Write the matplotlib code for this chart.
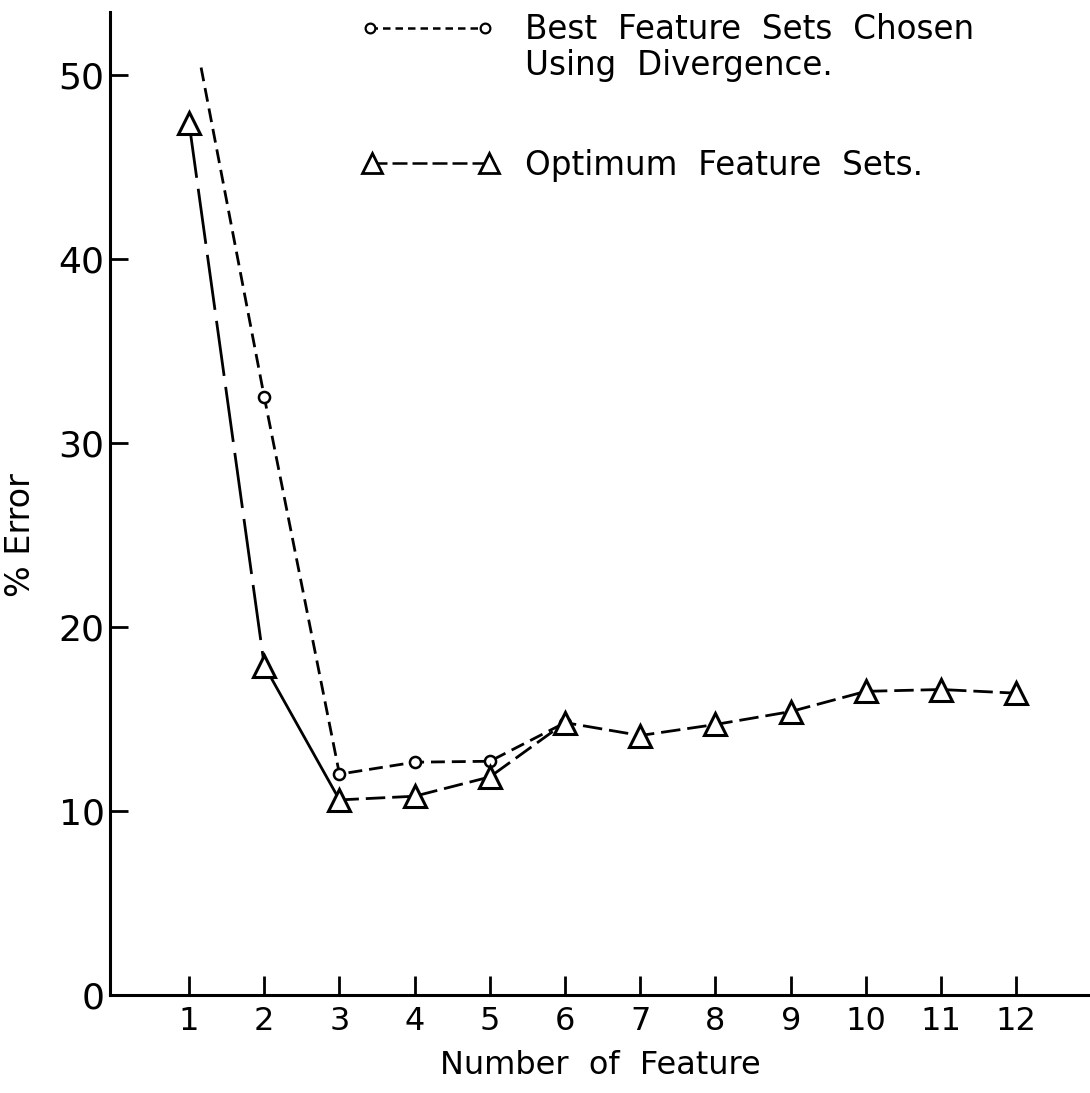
import matplotlib
matplotlib.use('Agg')
import matplotlib.pyplot as plt
from matplotlib.lines import Line2D

plt.rcParams['font.family'] = ['DejaVu Sans']

# optimum feature sets (triangles)
n_opt = [1, 2, 3, 4, 5, 6, 7, 8, 9, 10, 11, 12]
err_opt = [47.4, 17.9, 10.6, 10.8, 11.85, 14.8, 14.1, 14.7, 15.4, 16.5, 16.6, 16.4]

# best sets chosen using divergence (circles); line enters from top of plot
n_div = [1.16, 2, 3, 4, 5, 6]
err_div = [50.4, 32.5, 12.0, 12.65, 12.7, 14.8]

xticks = list(range(1, 13))
yticks = [0, 10, 20, 30, 40, 50]

fig = plt.figure(figsize=(10.9, 10.93), dpi=100)
ax = fig.add_axes([0.101, 0.0897, 0.899, 0.899])

lw = 2.0
# divergence series: short dashes, no marker on the first (entry) point
ax.plot(n_div, err_div, color='black', lw=lw, dashes=(5, 2.5),
        marker='o', markersize=8, markerfacecolor='white', markeredgewidth=1.8,
        markevery=list(range(1, len(n_div))), zorder=3)

# optimum series: long dashes 1-2, solid 2-3, medium dashes after
ax.plot(n_opt[0:2], err_opt[0:2], color='black', lw=lw, dashes=(20, 4), zorder=2)
ax.plot(n_opt[1:3], err_opt[1:3], color='black', lw=lw, zorder=2)
ax.plot(n_opt[2:], err_opt[2:], color='black', lw=lw, dashes=(7, 2.5), zorder=2)
ax.plot(n_opt, err_opt, linestyle='none', marker='^', markersize=16,
        markerfacecolor='white', markeredgecolor='black', markeredgewidth=2.2, zorder=4)

ax.set_xlim(-0.05, 12.98)
ax.set_ylim(0, 53.4)
ax.set_xticks(xticks)
ax.set_xticklabels([str(v) for v in xticks], fontsize=23)
ax.set_yticks(yticks)
ax.set_yticklabels([str(v) for v in yticks], fontsize=26)

for s in ['top', 'right']:
    ax.spines[s].set_visible(False)
for s in ['left', 'bottom']:
    ax.spines[s].set_linewidth(2.2)

ax.tick_params(axis='y', direction='in', length=13, width=2, pad=4)
ax.tick_params(axis='x', direction='in', length=14, width=2, pad=8)

ax.set_xlabel('Number  of  Feature', fontsize=23)
ax.xaxis.set_label_coords(0.5, -0.056)
ax.set_ylabel('% Error', fontsize=24)
ax.yaxis.set_label_coords(-0.075, 0.468)

# hand-drawn style legend at the top
fig.add_artist(Line2D([0.339, 0.445], [0.974, 0.974], color='black', lw=1.8, dashes=(3, 2),
                      marker='o', markersize=7, markerfacecolor='white', markeredgewidth=1.6))
fig.add_artist(Line2D([0.341, 0.449], [0.851, 0.851], color='black', lw=1.8, dashes=(6, 2),
                      marker='^', markersize=15, markerfacecolor='white', markeredgewidth=2))
fig.text(0.482, 0.973, 'Best  Feature  Sets  Chosen', fontsize=23.5, va='center', ha='left')
fig.text(0.482, 0.940, 'Using  Divergence.', fontsize=23.5, va='center', ha='left')
fig.text(0.482, 0.849, 'Optimum  Feature  Sets.', fontsize=23.5, va='center', ha='left')

fig.savefig('out.png', dpi=100, facecolor='white')
